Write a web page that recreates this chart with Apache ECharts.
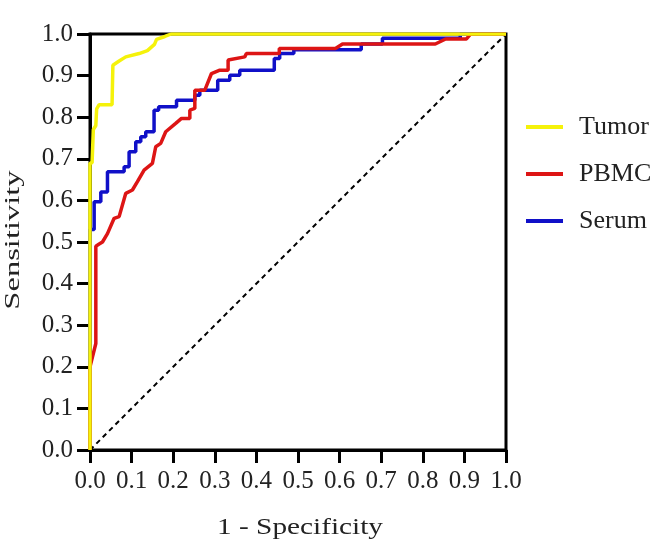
<!DOCTYPE html>
<html><head><meta charset="utf-8">
<script src="https://cdn.jsdelivr.net/npm/echarts@6/dist/echarts.min.js"></script>
<style>html,body{margin:0;padding:0;background:#fff}#c{width:669px;height:544px}</style>
</head><body><div id="c"></div>
<script>
const seriesNames = ['Tumor', 'PBMC', 'Serum'];
const tumorFpr  = [0, 0, 0.005, 0.008, 0.014, 0.016, 0.022, 0.053, 0.055, 0.07, 0.086, 0.118, 0.138, 0.155, 0.16, 0.18, 0.195, 1];
const tumorSens = [0, 0.69, 0.69, 0.77, 0.78, 0.82, 0.83, 0.83, 0.925, 0.935, 0.945, 0.953, 0.96, 0.975, 0.987, 0.994, 1, 1];
const pbmcFpr  = [0, 0, 0.014, 0.014, 0.022, 0.03, 0.042, 0.058, 0.07, 0.086, 0.102, 0.114, 0.13, 0.15, 0.158, 0.17, 0.182, 0.206, 0.22, 0.24, 0.24, 0.252, 0.252, 0.276, 0.292, 0.312, 0.332, 0.332, 0.372, 0.376, 0.455, 0.455, 0.59, 0.607, 0.83, 0.855, 0.905, 0.915, 1];
const pbmcSens = [0, 0.2, 0.256, 0.49, 0.495, 0.5, 0.52, 0.557, 0.561, 0.617, 0.625, 0.645, 0.673, 0.689, 0.729, 0.737, 0.765, 0.785, 0.797, 0.797, 0.817, 0.821, 0.865, 0.865, 0.905, 0.913, 0.913, 0.9375, 0.945, 0.953, 0.953, 0.965, 0.965, 0.976, 0.976, 0.988, 0.988, 1, 1];
const serumFpr  = [0, 0, 0.01, 0.01, 0.026, 0.026, 0.042, 0.042, 0.082, 0.082, 0.094, 0.094, 0.11, 0.11, 0.122, 0.122, 0.134, 0.134, 0.154, 0.154, 0.165, 0.165, 0.208, 0.208, 0.252, 0.252, 0.264, 0.264, 0.307, 0.307, 0.336, 0.336, 0.36, 0.36, 0.443, 0.443, 0.456, 0.456, 0.49, 0.49, 0.652, 0.652, 0.703, 0.703, 0.89, 0.89, 1];
const serumSens = [0, 0.53, 0.53, 0.597, 0.597, 0.62, 0.62, 0.669, 0.669, 0.681, 0.681, 0.717, 0.717, 0.741, 0.741, 0.753, 0.753, 0.765, 0.765, 0.817, 0.817, 0.825, 0.825, 0.841, 0.841, 0.853, 0.853, 0.865, 0.865, 0.889, 0.889, 0.901, 0.901, 0.913, 0.913, 0.941, 0.941, 0.953, 0.953, 0.962, 0.962, 0.976, 0.976, 0.99, 0.99, 1, 1];
const refLine = [[0, 0], [1, 1]];
const xTickLabels = ['0.0','0.1','0.2','0.3','0.4','0.5','0.6','0.7','0.8','0.9','1.0'];
const yTickLabels = xTickLabels;
const xTitle = '1 - Specificity';
const yTitle = 'Sensitivity';

const zip = (a, b) => a.map((v, i) => [v, b[i]]);
const font = 'Liberation Serif';
const axisCommon = {
  type: 'value', min: 0, max: 1, interval: 0.1,
  axisLine: { show: true, lineStyle: { color: '#000', width: 3 } },
  axisTick: { show: true, inside: false, length: 13, lineStyle: { color: '#000', width: 3 } },
  splitLine: { show: false },
  axisLabel: { fontFamily: font, fontSize: 25, color: '#222' }
};
const chart = echarts.init(document.getElementById('c'), null, { renderer: 'canvas' });
chart.setOption({
  animation: false,
  backgroundColor: '#fff',
  grid: { left: 90, right: 163, top: 34, bottom: 94, show: true, borderColor: '#000', borderWidth: 3, backgroundColor: 'transparent' },
  xAxis: Object.assign({}, axisCommon, {
    axisLabel: Object.assign({}, axisCommon.axisLabel, { margin: 19, formatter: (v) => xTickLabels[Math.round(v * 10)] })
  }),
  yAxis: Object.assign({}, axisCommon, {
    axisLabel: Object.assign({}, axisCommon.axisLabel, { margin: 17, formatter: (v) => yTickLabels[Math.round(v * 10)] })
  }),
  graphic: [
    { type: 'text', x: 300, y: 528, scaleX: 1.22, silent: true,
      style: { text: xTitle, font: '24px "Liberation Serif"', fill: '#222', align: 'center', verticalAlign: 'middle' } },
    { type: 'text', x: 13, y: 240, rotation: Math.PI / 2, scaleX: 1.55, silent: true,
      style: { text: yTitle, font: '21px "Liberation Serif"', fill: '#222', align: 'center', verticalAlign: 'middle' } }
  ],
  legend: {
    orient: 'vertical', left: 521, top: 109, itemGap: 21,
    icon: 'rect', itemWidth: 37, itemHeight: 4,
    textStyle: { fontFamily: font, fontSize: 26, color: '#222', padding: [0, 0, 0, 11] },
    data: seriesNames
  },
  series: [
    { type: 'line', data: refLine, symbol: 'none', silent: true, z: 1,
      lineStyle: { color: '#000', width: 2, type: [5, 4] } },
    { name: 'Serum', type: 'line', data: zip(serumFpr, serumSens), symbol: 'none', z: 2,
      itemStyle: { color: '#1010c8' }, lineStyle: { color: '#1010c8', width: 3.5 } },
    { name: 'PBMC', type: 'line', data: zip(pbmcFpr, pbmcSens), symbol: 'none', z: 3,
      itemStyle: { color: '#dd1515' }, lineStyle: { color: '#dd1515', width: 3.5 } },
    { name: 'Tumor', type: 'line', data: zip(tumorFpr, tumorSens), symbol: 'none', z: 4,
      itemStyle: { color: '#f5f20a' }, lineStyle: { color: '#f5f20a', width: 3.5 } }
  ]
});
</script></body></html>
